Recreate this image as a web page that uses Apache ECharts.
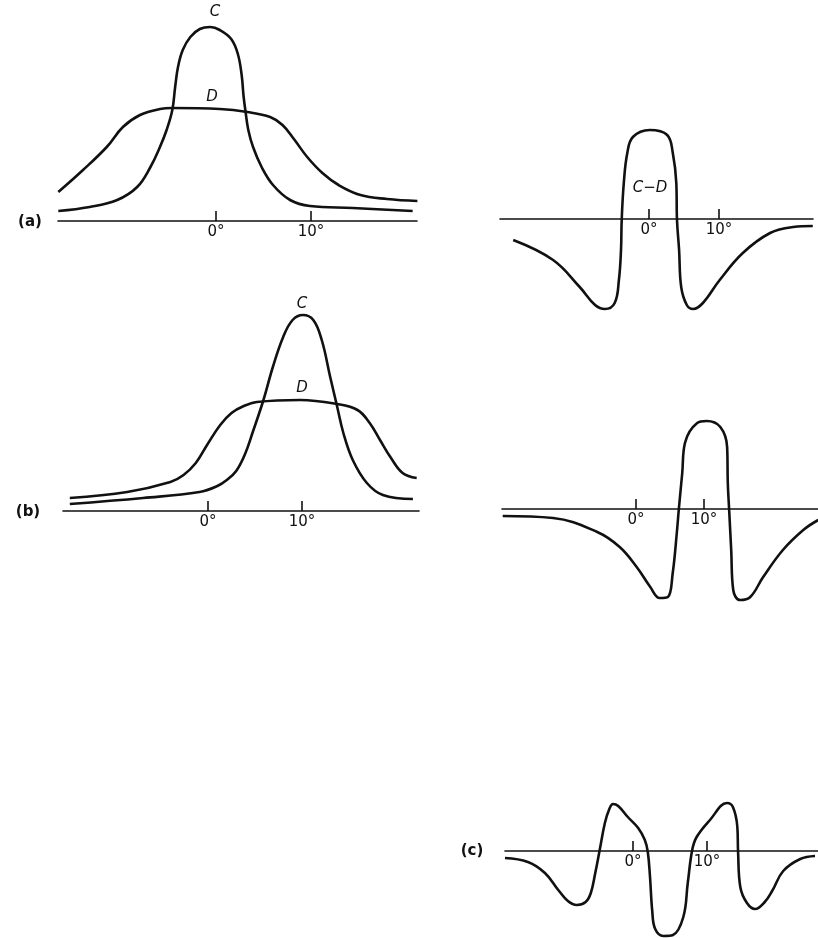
<!DOCTYPE html>
<html>
<head>
<meta charset="utf-8">
<script src="https://cdn.jsdelivr.net/npm/echarts@6/dist/echarts.min.js"></script>
<style>
  html, body { margin: 0; padding: 0; background: #fff; }
  #chart { width: 818px; height: 938px; }
</style>
</head>
<body>
<div id="chart"></div>
<script>
// angle in degrees, response (arbitrary units)
const tickValues = [0, 10];

// (a) left: C and D
const curveCa = [[-16.6, 10], [-13.3, 14], [-10.4, 21], [-8.3, 34], [-6.9, 54], [-5.9, 74], [-5.2, 91], [-4.6, 111],
  [-4.3, 134], [-4.0, 154], [-3.5, 171], [-2.7, 184], [-1.7, 192], [-0.6, 194], [0.4, 191], [1.6, 182], [2.3, 167],
  [2.7, 146], [2.9, 125], [3.1, 110], [3.4, 91], [3.9, 74], [4.8, 54], [6.0, 36], [7.8, 21], [9.9, 15], [14.4, 13], [20.7, 10]];
const curveDa = [[-16.6, 29], [-14.0, 51], [-11.5, 74], [-9.8, 94], [-8.0, 106], [-5.9, 112], [-4.6, 113], [0.4, 112],
  [3.3, 109], [5.7, 104], [7.0, 96], [8.2, 82], [9.6, 64], [11.2, 48], [12.9, 36], [15.2, 26], [18.0, 22], [21.2, 20]];

// (a) right: C-D
const diffA = [[-19.4, -21], [-13.7, -41], [-9.9, -68], [-7.7, -86], [-6.3, -90], [-4.9, -84], [-4.3, -61], [-4.0, -31],
  [-3.9, -1], [-3.6, 36], [-3.1, 66], [-2.3, 82], [0.1, 89], [2.6, 84], [3.4, 66], [3.9, 36], [4.0, -1], [4.3, -31],
  [4.6, -68], [5.4, -86], [6.3, -90], [7.7, -84], [10.1, -61], [13.4, -34], [17.3, -14], [20.6, -8], [23.4, -7]];

// (b) left: C and D
const curveCb = [[-14.7, 7], [-6.9, 13], [-0.9, 19], [1.0, 25], [2.0, 31], [3.0, 40], [3.9, 56], [4.8, 80], [5.9, 111],
  [6.9, 144], [8.0, 174], [9.0, 191], [10.1, 196], [11.2, 191], [12.1, 171], [13.0, 134], [13.7, 106], [14.4, 78],
  [15.4, 51], [16.9, 28], [18.6, 16], [21.8, 12]];
const curveDb = [[-14.7, 13], [-8.6, 19], [-4.0, 29], [-2.6, 36], [-1.3, 48], [-0.1, 66], [1.3, 86], [2.5, 98],
  [3.8, 105], [5.2, 109], [9.8, 111], [13.7, 107], [15.9, 101], [17.2, 88], [18.3, 71], [19.4, 54], [20.7, 38], [22.2, 33]];

// (b) right: C-D
const diffB = [[-19.6, -7], [-12.2, -9], [-5.7, -23], [-2.4, -38], [0.1, -58], [2.1, -78], [3.5, -89], [4.7, -88],
  [5.4, -64], [6.0, -24], [6.3, 0], [6.8, 36], [7.2, 66], [9.0, 86], [10.4, 88], [12.4, 82], [13.4, 62], [13.5, 26],
  [13.7, -1], [14.0, -41], [14.3, -81], [15.3, -91], [16.8, -88], [18.7, -68], [21.6, -41], [24.6, -21], [26.8, -11]];

// (c) right
const diffC = [[-17.3, -7], [-14.2, -11], [-11.9, -22], [-10.1, -39], [-8.8, -50], [-7.6, -54], [-6.4, -51], [-5.7, -42],
  [-5.1, -22], [-4.5, 1], [-3.8, 28], [-3.2, 42], [-2.7, 47], [-2.0, 45], [-0.7, 34], [0.7, 23], [1.6, 11], [2.0, -1],
  [2.3, -26], [2.6, -60], [3.0, -78], [4.1, -85], [5.4, -84], [6.8, -66], [7.4, -32], [8.0, 1], [8.6, 14], [10.4, 31],
  [12.7, 48], [13.5, 44], [14.1, 24], [14.2, -1], [14.5, -36], [15.4, -52], [16.5, -58], [17.8, -51], [18.8, -40],
  [20.3, -20], [22.6, -8], [24.6, -5]];

// pixel layout of the five panels: zero x, px per degree, axis y, x span, height above the axis
const panels = [
  { zx: 216, ppd: 9.5, ay: 221, x1: 58, x2: 417, ymax: 200 },
  { zx: 649, ppd: 7.0, ay: 219, x1: 500, x2: 813, ymax: 100 },
  { zx: 208, ppd: 9.4, ay: 511, x1: 63, x2: 419, ymax: 200 },
  { zx: 636, ppd: 6.8, ay: 509, x1: 502, x2: 818, ymax: 100 },
  { zx: 633, ppd: 7.4, ay: 851, x1: 505, x2: 818, ymax: 100 }
];

const ink = '#111';
const chart = echarts.init(document.getElementById('chart'));

const grids = [], xAxes = [], yAxes = [];
panels.forEach((p, i) => {
  // grid bottom sits on the axis; negative parts are drawn below it (clip off)
  grids.push({ left: p.x1, top: p.ay - p.ymax, width: p.x2 - p.x1, height: p.ymax });
  xAxes.push({
    type: 'value',
    gridIndex: i,
    min: (p.x1 - p.zx) / p.ppd,
    max: (p.x2 - p.zx) / p.ppd,
    splitLine: { show: false },
    axisLine: { lineStyle: { color: ink, width: 1.6 } },
    axisTick: { customValues: tickValues, inside: true, length: 10, lineStyle: { color: ink, width: 1.6 } },
    axisLabel: {
      customValues: tickValues,
      formatter: '{value}°',
      color: ink,
      fontSize: 15,
      fontFamily: 'DejaVu Sans',
      margin: 4
    }
  });
  yAxes.push({ type: 'value', gridIndex: i, min: 0, max: p.ymax, show: false });
});

function curve (idx, data) {
  return {
    type: 'line',
    xAxisIndex: idx,
    yAxisIndex: idx,
    data: data,
    smooth: 0.4,
    symbol: 'none',
    clip: false,
    lineStyle: { color: ink, width: 2.6 }
  };
}

function txt (x, y, s, italic) {
  return {
    type: 'text',
    x: x,
    y: y,
    style: {
      text: s,
      fill: ink,
      font: (italic ? 'italic ' : 'bold ') + '15px "DejaVu Sans"',
      align: 'center',
      verticalAlign: 'middle'
    }
  };
}

chart.setOption({
  animation: false,
  backgroundColor: '#fff',
  grid: grids,
  xAxis: xAxes,
  yAxis: yAxes,
  series: [
    curve(0, curveCa),
    curve(0, curveDa),
    curve(1, diffA),
    curve(2, curveCb),
    curve(2, curveDb),
    curve(3, diffB),
    curve(4, diffC)
  ],
  graphic: [
    txt(30, 222, '(a)'),
    txt(28, 512, '(b)'),
    txt(472, 851, '(c)'),
    txt(215, 12, 'C', true),
    txt(212, 97, 'D', true),
    txt(302, 304, 'C', true),
    txt(302, 388, 'D', true),
    txt(650, 188, 'C−D', true)
  ]
});
</script>
</body>
</html>
